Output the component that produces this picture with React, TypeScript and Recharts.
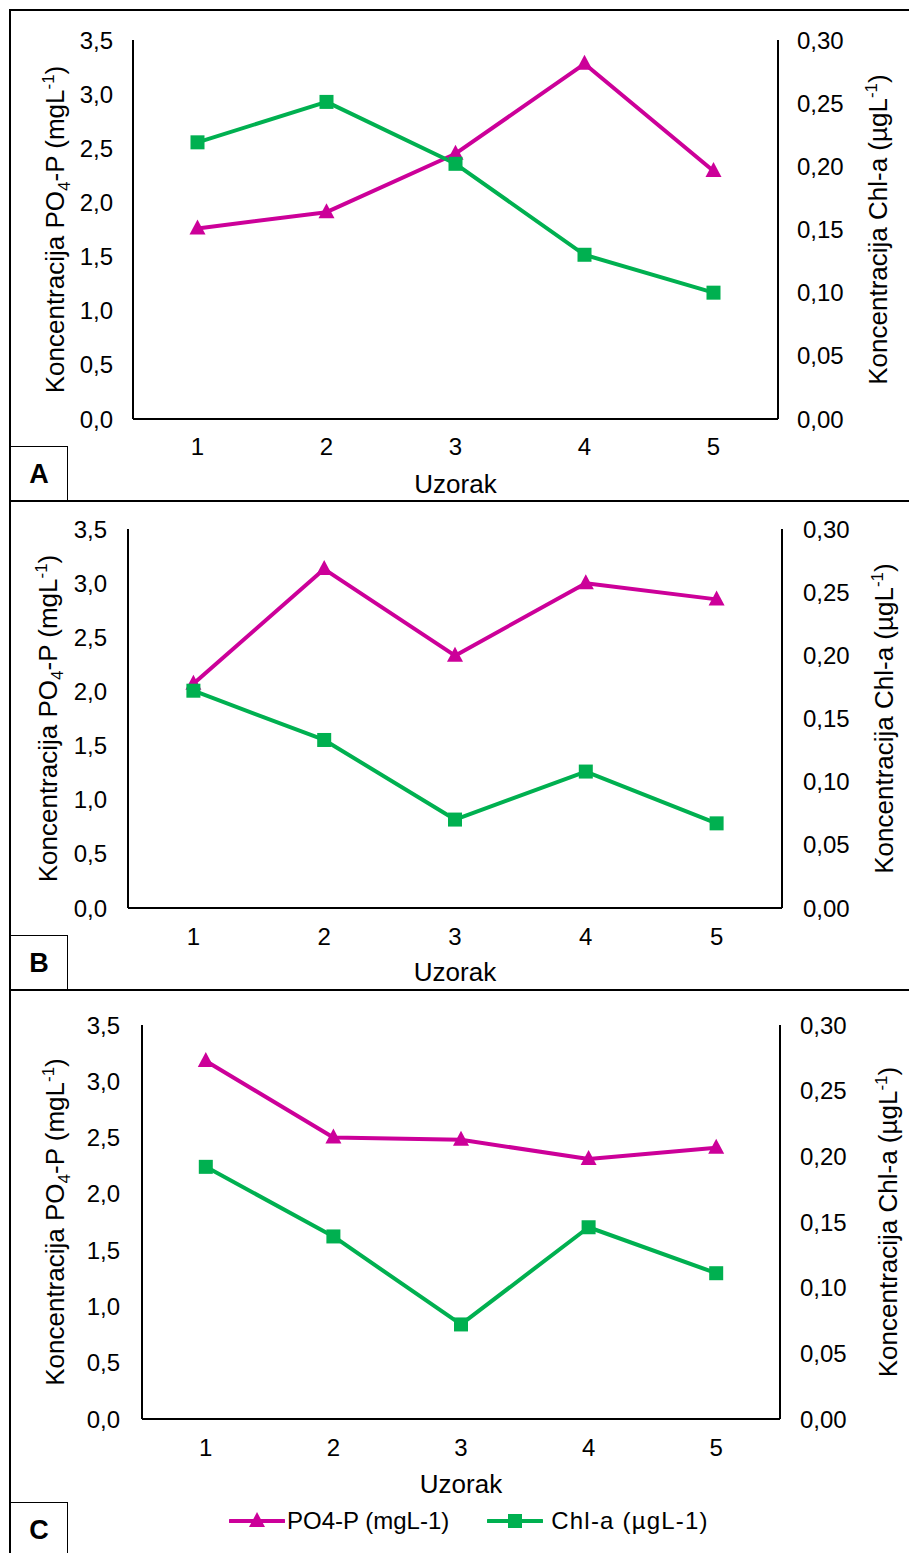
import React from "react";
import { LineChart, Line, XAxis, YAxis, Legend } from "recharts";

// sample numbers on the x axis
const samples = ["1", "2", "3", "4", "5"];

// panel A
const po4A = [1.76, 1.91, 2.45, 3.28, 2.29];
const chlA = [0.219, 0.251, 0.202, 0.13, 0.1];
// panel B
const po4B = [2.07, 3.13, 2.33, 3.0, 2.85];
const chlB = [0.172, 0.133, 0.07, 0.108, 0.067];
// panel C
const po4C = [3.18, 2.5, 2.48, 2.31, 2.41];
const chlC = [0.192, 0.139, 0.072, 0.146, 0.111];

const leftTicks = [0, 0.5, 1, 1.5, 2, 2.5, 3, 3.5];
const rightTicks = [0, 0.05, 0.1, 0.15, 0.2, 0.25, 0.3];
const panelLetters = ["A", "B", "C"];
const seriesNames = ["PO4-P (mgL-1)", "Chl-a (µgL-1)"];
const xTitle = "Uzorak";

const MAGENTA = "#CC0099";
const GREEN = "#00B050";
const FONT = "'Liberation Sans', Arial, sans-serif";
const W = 909;

// layout per panel (page coordinates)
const panels = [
  { top: 10, height: 491, pl: 133, pr: 778, pt: 40, pb: 419, lTitle: 55, rTitle: 878, lEnd: 113, rStart: 797, tickY: 447, xTitleY: 484, letterTop: 446 },
  { top: 501, height: 489, pl: 128, pr: 782, pt: 529, pb: 908, lTitle: 48, rTitle: 884, lEnd: 107, rStart: 803, tickY: 937, xTitleY: 972, letterTop: 935 },
  { top: 990, height: 563, pl: 142, pr: 780, pt: 1025, pb: 1419, lTitle: 55, rTitle: 888, lEnd: 120, rStart: 800, tickY: 1448, xTitleY: 1484, letterTop: 1502 },
];

const fmt1 = (v: number) => v.toFixed(1).replace(".", ",");
const fmt2 = (v: number) => v.toFixed(2).replace(".", ",");

const Triangle = (p: any) => {
  const { cx, cy } = p;
  if (cx == null || cy == null) return <g key={p.key} />;
  return (
    <polygon
      key={`t-${p.index}`}
      points={`${cx},${cy - 9} ${cx - 8},${cy + 6} ${cx + 8},${cy + 6}`}
      fill={MAGENTA}
    />
  );
};

const Square = (p: any) => {
  const { cx, cy } = p;
  if (cx == null || cy == null) return <g key={p.key} />;
  return <rect key={`s-${p.index}`} x={cx - 7} y={cy - 7} width={14} height={14} fill={GREEN} />;
};

const LeftTitle = ({ cx, cy }: any) => (
  <text
    x={cx}
    y={cy}
    transform={`rotate(-90 ${cx} ${cy})`}
    textAnchor="middle"
    dy="0.355em"
    fontSize={26}
    fontFamily={FONT}
    fill="#000"
  >
    Koncentracija PO
    <tspan dy={6} fontSize={17}>4</tspan>
    <tspan dy={-6}>-P (mgL</tspan>
    <tspan dy={-10} fontSize={17}>-1</tspan>
    <tspan dy={10}>)</tspan>
  </text>
);

const RightTitle = ({ cx, cy }: any) => (
  <text
    x={cx}
    y={cy}
    transform={`rotate(-90 ${cx} ${cy})`}
    textAnchor="middle"
    dy="0.355em"
    fontSize={26}
    fontFamily={FONT}
    fill="#000"
  >
    Koncentracija Chl-a (µgL
    <tspan dy={-10} fontSize={17}>-1</tspan>
    <tspan dy={10}>)</tspan>
  </text>
);

const XTitle = ({ cx, cy }: any) => (
  <text x={cx} y={cy} textAnchor="middle" dy="0.355em" fontSize={26} fontFamily={FONT} fill="#000">
    {xTitle}
  </text>
);

const LegendBox = () => (
  <div style={{ display: "flex", alignItems: "center", fontFamily: FONT, fontSize: 24, color: "#000" }}>
    <svg width={56} height={24}>
      <line x1={1} y1={12} x2={55} y2={12} stroke={MAGENTA} strokeWidth={4} strokeLinecap="round" />
      <polygon points="28,3 20,18 36,18" fill={MAGENTA} />
    </svg>
    <span style={{ marginLeft: 2, whiteSpace: "nowrap" }}>{seriesNames[0]}</span>
    <svg width={56} height={24} style={{ marginLeft: 38 }}>
      <line x1={1} y1={12} x2={55} y2={12} stroke={GREEN} strokeWidth={4} strokeLinecap="round" />
      <rect x={21} y={5} width={14} height={14} fill={GREEN} />
    </svg>
    <span style={{ marginLeft: 8, whiteSpace: "nowrap", letterSpacing: 1.2 }}>{seriesNames[1]}</span>
  </div>
);

const Panel = ({ idx, po4, chl }: { idx: number; po4: number[]; chl: number[] }) => {
  const g = panels[idx];
  const data = samples.map((s, i) => ({ sample: s, po4: po4[i], chl: chl[i] }));
  const pad = (g.pr - g.pl) / 10;
  const midY = (g.pt + g.pb) / 2 - g.top;
  const tickStyle = { fontSize: 24, fill: "#000", fontFamily: FONT };
  return (
    <div style={{ position: "absolute", left: 0, top: g.top }}>
      <LineChart
        width={W}
        height={g.height}
        data={data}
        margin={{ top: g.pt - g.top, right: 0, bottom: 0, left: 0 }}
      >
        <XAxis
          dataKey="sample"
          type="category"
          interval={0}
          padding={{ left: pad, right: pad }}
          height={g.top + g.height - g.pb}
          tickLine={false}
          tickSize={0}
          tickMargin={g.tickY - g.pb - 8.6}
          axisLine={{ stroke: "#000", strokeWidth: 2 }}
          tick={tickStyle}
          label={<XTitle cx={(g.pl + g.pr) / 2} cy={g.xTitleY - g.top} />}
        />
        <YAxis
          yAxisId="left"
          domain={[0, 3.5]}
          ticks={leftTicks}
          interval={0}
          tickFormatter={fmt1}
          width={g.pl}
          tickLine={false}
          tickSize={0}
          tickMargin={g.pl - g.lEnd}
          axisLine={{ stroke: "#000", strokeWidth: 2 }}
          tick={tickStyle}
          label={<LeftTitle cx={g.lTitle} cy={midY} />}
        />
        <YAxis
          yAxisId="right"
          orientation="right"
          domain={[0, 0.3]}
          ticks={rightTicks}
          interval={0}
          tickFormatter={fmt2}
          width={W - g.pr}
          tickLine={false}
          tickSize={0}
          tickMargin={g.rStart - g.pr}
          axisLine={{ stroke: "#000", strokeWidth: 2 }}
          tick={tickStyle}
          label={<RightTitle cx={g.rTitle} cy={midY} />}
        />
        <Line
          yAxisId="left"
          dataKey="po4"
          name={seriesNames[0]}
          stroke={MAGENTA}
          strokeWidth={4}
          strokeLinejoin="round"
          dot={Triangle}
          activeDot={false}
          isAnimationActive={false}
        />
        <Line
          yAxisId="right"
          dataKey="chl"
          name={seriesNames[1]}
          stroke={GREEN}
          strokeWidth={4}
          strokeLinejoin="round"
          dot={Square}
          activeDot={false}
          isAnimationActive={false}
        />
        {idx === 2 && (
          <Legend
            verticalAlign="middle"
            align="center"
            content={LegendBox}
            wrapperStyle={{ left: 229, top: 1507 - g.top, width: "auto" }}
          />
        )}
      </LineChart>
    </div>
  );
};

export default function App() {
  return (
    <div
      style={{
        position: "absolute",
        left: 0,
        top: 0,
        width: W,
        height: 1553,
        overflow: "hidden",
        background: "#fff",
      }}
    >
      {/* outer frame, cut off on the right and bottom like the source */}
      <div style={{ position: "absolute", left: 9, top: 9, width: 1100, height: 1700, border: "2.5px solid #000", boxSizing: "border-box" }} />
      <div style={{ position: "absolute", left: 9, top: 500, width: 1100, borderTop: "2.5px solid #000" }} />
      <div style={{ position: "absolute", left: 9, top: 989, width: 1100, borderTop: "2.5px solid #000" }} />
      {panels.map((g, i) => (
        <div
          key={panelLetters[i]}
          style={{
            position: "absolute",
            left: 10,
            top: g.letterTop,
            width: 58,
            height: 56,
            border: "1.5px solid #000",
            boxSizing: "border-box",
            display: "flex",
            alignItems: "center",
            justifyContent: "center",
            fontFamily: FONT,
            fontWeight: "bold",
            fontSize: 27,
          }}
        >
          {panelLetters[i]}
        </div>
      ))}
      <Panel idx={0} po4={po4A} chl={chlA} />
      <Panel idx={1} po4={po4B} chl={chlB} />
      <Panel idx={2} po4={po4C} chl={chlC} />
    </div>
  );
}
